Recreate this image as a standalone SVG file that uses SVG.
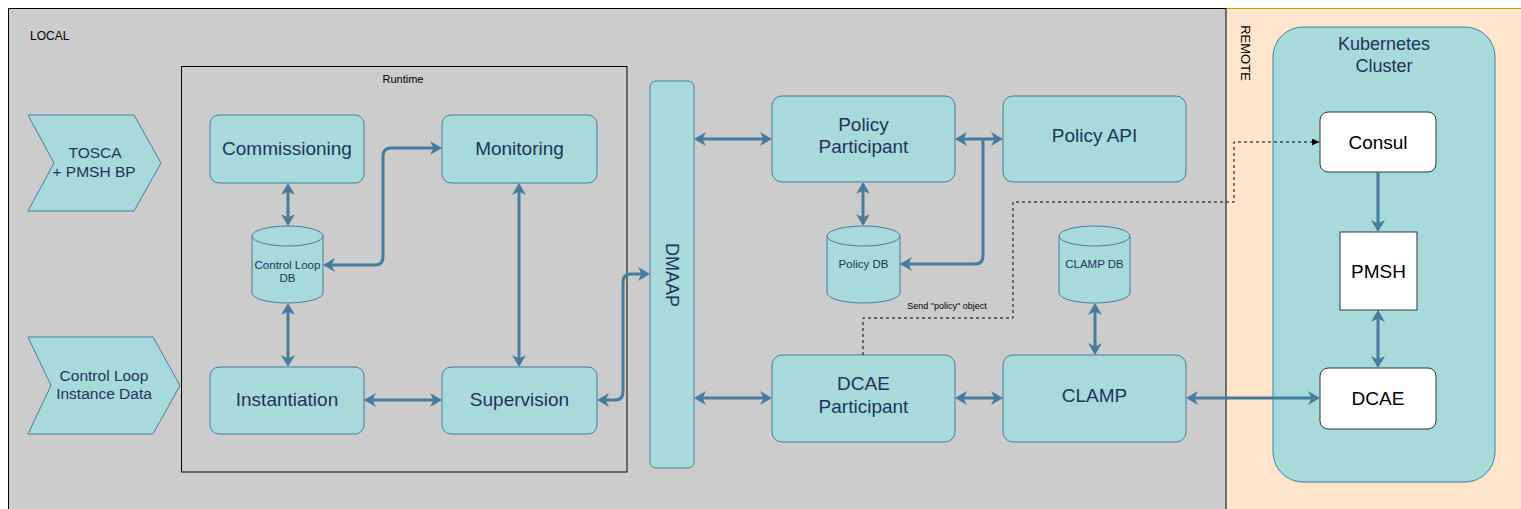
<svg xmlns="http://www.w3.org/2000/svg" width="1521" height="509" viewBox="0 0 1521 509">
<style>
.node{fill:#a8dadc;stroke:#457b9d;stroke-width:1}
.wnode{fill:#ffffff;stroke:#333333;stroke-width:1}
.t{font-family:"Liberation Sans",Arial,sans-serif;fill:#1d3557;text-anchor:middle}
.tb{font-family:"Liberation Sans",Arial,sans-serif;fill:#000000;text-anchor:middle}
.c{fill:none;stroke:#457b9d;stroke-width:3;stroke-linejoin:round}
.d{marker-start:url(#ah);marker-end:url(#ah)}
.e{marker-end:url(#ah)}
.dash{fill:none;stroke:#000;stroke-width:1;stroke-dasharray:3 3;marker-end:url(#dah)}
</style>
<defs>
<marker id="ah" viewBox="0 0 12 14" refX="9" refY="7" markerWidth="12" markerHeight="14" markerUnits="userSpaceOnUse" orient="auto-start-reverse">
<path d="M0,0 L12,7 L0,14 L3.5,7 Z" fill="#457b9d"/>
</marker>
<marker id="dah" viewBox="0 0 7 7" refX="7" refY="3.5" markerWidth="7" markerHeight="7" markerUnits="userSpaceOnUse" orient="auto">
<path d="M0,0 L7,3.5 L0,7 Z" fill="#000"/>
</marker>
</defs>
<rect width="1521" height="509" fill="#ffffff"/>
<g id="remote">
<rect x="1226" y="8.5" width="300" height="510" fill="#ffe6cc"/>
<line x1="1226" y1="8.5" x2="1521" y2="8.5" stroke="#d79b00" stroke-width="1"/>
<text class="tb" font-size="13" transform="translate(1245,53) rotate(90)" y="4.5">REMOTE</text>
</g>
<g id="local">
<rect x="8.5" y="8.5" width="1217.5" height="510" fill="#cccccc" stroke="#000" stroke-width="1"/>
<text class="tb" font-size="12" x="30" y="40" style="text-anchor:start">LOCAL</text>
</g>
<g id="runtime">
<rect x="181.5" y="66.5" width="445.5" height="405.5" fill="none" stroke="#000" stroke-width="1"/>
<text class="tb" font-size="11" x="403" y="83">Runtime</text>
</g>
<g id="kubernetes">
<rect x="1273" y="27" width="222" height="455" rx="30" class="node"/>
<text class="t" font-size="18" x="1384" y="50">Kubernetes</text>
<text class="t" font-size="18" x="1384" y="72">Cluster</text>
</g>
<g id="tosca">
<polygon class="node" points="28,115 134,115 161,163 134,211 28,211 54,163"/>
<text class="t" font-size="15.5" x="95" y="158">TOSCA</text>
<text class="t" font-size="15.5" x="94" y="177">+ PMSH BP</text>
</g>
<g id="instance-data">
<polygon class="node" points="28,337 153,337 180,385.5 153,434 28,434 51,385.5"/>
<text class="t" font-size="15.5" x="104" y="381">Control Loop</text>
<text class="t" font-size="15.5" x="104" y="399">Instance Data</text>
</g>
<g id="commissioning">
<rect class="node" x="210" y="115" width="154" height="68" rx="9"/>
<text class="t" font-size="19" x="287" y="155">Commissioning</text>
</g>
<g id="monitoring">
<rect class="node" x="442" y="115" width="155" height="68" rx="9"/>
<text class="t" font-size="19" x="519.5" y="155">Monitoring</text>
</g>
<g id="instantiation">
<rect class="node" x="210" y="367" width="154" height="67" rx="9"/>
<text class="t" font-size="19" x="287" y="406">Instantiation</text>
</g>
<g id="supervision">
<rect class="node" x="442" y="367" width="155" height="67" rx="9"/>
<text class="t" font-size="19" x="519.5" y="406">Supervision</text>
</g>
<g id="control-loop-db">
<path class="node" d="M252,236 A35.5,10 0 0 1 323,236 V293 A35.5,10 0 0 1 252,293 Z"/>
<path class="node" d="M252,236 A35.5,10 0 0 0 323,236" style="fill:none"/>
<text class="t" font-size="11.5" x="287.5" y="269">Control Loop</text>
<text class="t" font-size="11.5" x="287.5" y="282">DB</text>
</g>
<g id="dmaap">
<rect class="node" x="650" y="81" width="44" height="387" rx="6"/>
<text class="t" font-size="18" transform="translate(672,275) rotate(90)" y="6.5">DMAAP</text>
</g>
<g id="policy-participant">
<rect class="node" x="772" y="96" width="183" height="86" rx="10"/>
<text class="t" font-size="19" x="863.5" y="131">Policy</text>
<text class="t" font-size="19" x="863.5" y="153">Participant</text>
</g>
<g id="policy-api">
<rect class="node" x="1003" y="96" width="183" height="86" rx="10"/>
<text class="t" font-size="19" x="1094.5" y="142">Policy API</text>
</g>
<g id="policy-db">
<path class="node" d="M827,236 A36.5,10 0 0 1 900,236 V293 A36.5,10 0 0 1 827,293 Z"/>
<path class="node" d="M827,236 A36.5,10 0 0 0 900,236" style="fill:none"/>
<text class="t" font-size="11.5" x="863.5" y="268">Policy DB</text>
</g>
<g id="clamp-db">
<path class="node" d="M1059,236 A35.5,10 0 0 1 1130,236 V293 A35.5,10 0 0 1 1059,293 Z"/>
<path class="node" d="M1059,236 A35.5,10 0 0 0 1130,236" style="fill:none"/>
<text class="t" font-size="11.5" x="1094.5" y="268">CLAMP DB</text>
</g>
<g id="dcae-participant">
<rect class="node" x="772" y="355" width="183" height="87" rx="10"/>
<text class="t" font-size="19" x="863.5" y="390">DCAE</text>
<text class="t" font-size="19" x="863.5" y="413">Participant</text>
</g>
<g id="clamp">
<rect class="node" x="1003" y="355" width="183" height="87" rx="10"/>
<text class="t" font-size="19" x="1094.5" y="402">CLAMP</text>
</g>
<g id="consul">
<rect class="wnode" x="1320" y="112" width="116" height="60" rx="8"/>
<text class="tb" font-size="19" x="1378" y="149">Consul</text>
</g>
<g id="pmsh">
<rect class="wnode" x="1340" y="232" width="77" height="78"/>
<text class="tb" font-size="19" x="1378.5" y="278">PMSH</text>
</g>
<g id="dcae">
<rect class="wnode" x="1320" y="368" width="116" height="61" rx="8"/>
<text class="tb" font-size="19" x="1378" y="405">DCAE</text>
</g>
<g id="connectors">
<path class="c d" d="M288,186 V223"/>
<path class="c d" d="M288,306 V364"/>
<path class="c d" d="M326,265 H375 Q383,265 383,257 V156 Q383,148 391,148 H439"/>
<path class="c d" d="M519,186 V364"/>
<path class="c d" d="M367,400 H439"/>
<path class="c d" d="M600,400 H615 Q623,400 623,392 V282 Q623,274 631,274 H647"/>
<path class="c d" d="M697,139 H769"/>
<path class="c d" d="M697,398 H769"/>
<path class="c d" d="M958,139 H1000"/>
<path class="c e" d="M983,139 V256 Q983,264 975,264 H903"/>
<path class="c d" d="M863,185 V223"/>
<path class="c d" d="M958,398 H1000"/>
<path class="c d" d="M1095,306 V352"/>
<path class="c d" d="M1189,398 H1317"/>
<path class="c e" d="M1378,172 V229"/>
<path class="c d" d="M1378,313 V365"/>
<path class="dash" d="M863,355 V318 H1013 V202 H1234 V142 H1319"/>
<text class="tb" font-size="9" x="947" y="309">Send "policy" object</text>
</g>
</svg>
